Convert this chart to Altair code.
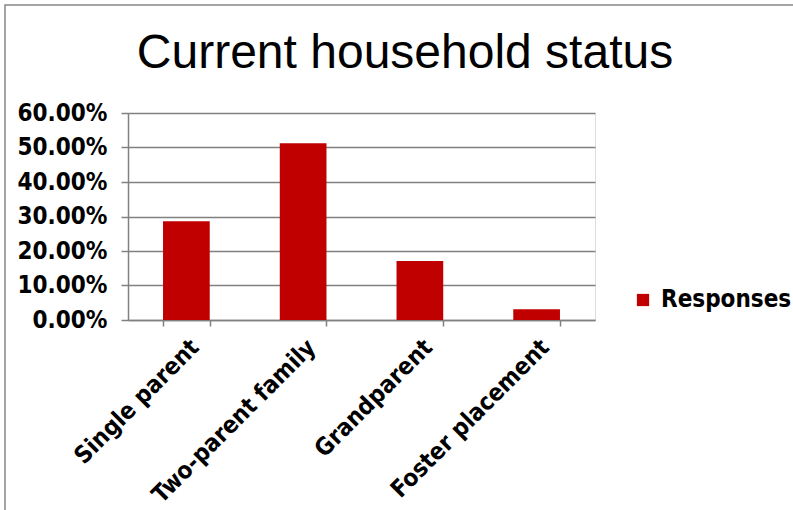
import altair as alt
import pandas as pd

categories = ["Single parent", "Two-parent family", "Grandparent", "Foster placement"]
values = [0.286, 0.512, 0.171, 0.031]
series = ["Responses"] * 4
chart_title = ["Current household status"]

df = pd.DataFrame({"category": categories, "value": values, "series": series})

LABEL_FONT = "Liberation Sans Narrow, Noto Sans ExtraCondensed, Noto Sans Condensed, DejaVu Sans Condensed, Liberation Sans"
FS = 24

frame = alt.Chart(pd.DataFrame({"a": [0]})).mark_rect(
    fill=None, stroke="#868686", strokeWidth=1.5
).encode(
    x=alt.value(-123), x2=alt.value(680), y=alt.value(-108), y2=alt.value(410)
)

title = alt.Chart(pd.DataFrame({"t": chart_title})).mark_text(
    font="Liberation Sans, Arial",
    fontSize=48,
    color="black",
    align="center",
    baseline="alphabetic",
).encode(
    text="t:N", x=alt.value(277), y=alt.value(-45)
)

bars = alt.Chart(df).mark_bar(color="#C00000").encode(
    x=alt.X(
        "category:N",
        sort=categories,
        scale=alt.Scale(paddingInner=0.6, paddingOuter=0.3),
        axis=alt.Axis(
            title=None,
            labelAngle=-45,
            labelAlign="right",
            labelBaseline="top",
            labelFont=LABEL_FONT,
            labelFontWeight="bold",
            labelFontSize=FS,
            labelColor="black",
            labelPadding=9,
            labelLimit=400,
            domainColor="#808080",
            domainWidth=1.5,
            tickColor="#808080",
            tickWidth=1.5,
            tickSize=6,
            tickBand="extent",
            grid=False,
        ),
    ),
    y=alt.Y(
        "value:Q",
        scale=alt.Scale(domain=[0, 0.6], nice=False),
        axis=alt.Axis(
            title=None,
            format=".2%",
            values=[0, 0.1, 0.2, 0.3, 0.4, 0.5, 0.6],
            labelFont=LABEL_FONT,
            labelFontWeight="bold",
            labelFontSize=FS,
            labelColor="black",
            labelPadding=14,
            domainColor="#808080",
            domainWidth=1.5,
            tickColor="#808080",
            tickWidth=1.5,
            tickSize=7,
            gridColor="#808080",
            gridWidth=1.5,
        ),
    ),
    color=alt.Color(
        "series:N",
        scale=alt.Scale(domain=["Responses"], range=["#C00000"]),
        legend=alt.Legend(
            title=None,
            orient="none",
            legendX=503,
            legendY=175,
            symbolType="square",
            symbolSize=150,
            symbolStrokeWidth=0,
            labelFont=LABEL_FONT,
            labelFontWeight="bold",
            labelFontSize=FS,
            labelColor="black",
            labelOffset=6,
        ),
    ),
)

chart = alt.layer(frame, title, bars).properties(
    width=467,
    height=207,
    padding={"left": 128, "top": 113, "right": 198, "bottom": 190},
    autosize=alt.AutoSizeParams(type="none"),
).configure_view(stroke=None).configure(background="white")

chart.save("out.html", embed_options={"renderer": "svg", "actions": False})
